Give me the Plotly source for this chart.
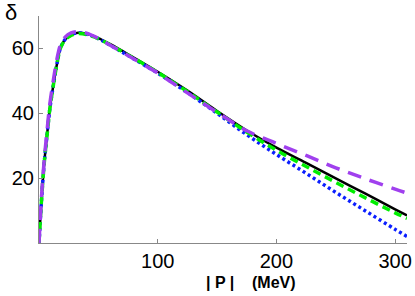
import plotly.graph_objects as go

# momentum |P| (MeV)
p = [0, 1, 2, 3.5, 5, 7, 9, 12, 15, 18, 22, 27, 33, 40, 50, 60, 75, 100,
     125, 150, 175, 200, 225, 250, 275, 300, 310]

delta_black = [0, 6.5, 12.5, 20.5, 27, 34, 41, 48.5, 55, 60, 62.8, 64.2, 64.8, 64.5,
               63.2, 61.3, 58.2, 52.8, 47, 40.7, 34.7, 29.4, 24.7, 19.9, 15.2, 10.4, 8.5]
delta_blue = [0, 6.5, 12.5, 20.5, 27, 34, 41, 48.5, 55, 60, 62.8, 64.2, 64.8, 64.4,
              63.0, 61.0, 57.8, 52.4, 46.4, 40.0, 33.4, 27.3, 21.5, 15.6, 9.9, 4.2, 2.0]
delta_green = [0, 6.5, 12.5, 20.5, 27, 34, 41, 48.5, 55, 60, 62.6, 64.0, 64.6, 64.3,
               63.0, 61.1, 58.0, 52.6, 46.7, 40.4, 34.2, 28.6, 23.6, 18.7, 13.9, 9.3, 7.6]
delta_purple = [0, 7, 13.5, 21.5, 28, 35.5, 42.5, 50, 56.5, 61, 63.5, 64.8, 65.2, 64.7,
                63.1, 61.0, 57.8, 52.4, 46.3, 40.3, 34.6, 30.7, 27.0, 23.2, 19.8, 16.6, 15.4]

x_ticks = [100, 200, 300]
y_ticks = [20, 40, 60]

fig = go.Figure()
fig.add_trace(go.Scatter(x=p, y=delta_black, mode="lines", line=dict(color="black", width=2.5, shape="spline")))
fig.add_trace(go.Scatter(x=p, y=delta_blue, mode="lines", line=dict(color="#0a1eff", width=3.5, dash="3px,3px", shape="spline")))
fig.add_trace(go.Scatter(x=p, y=delta_green, mode="lines", line=dict(color="#00ee00", width=3.5, dash="8px,5px", shape="spline")))
fig.add_trace(go.Scatter(x=p, y=delta_purple, mode="lines", line=dict(color="#a040ee", width=3.5, dash="14px,9px", shape="spline")))

axis_font = dict(family="Liberation Sans, Arial, sans-serif", size=20, color="black")
fig.update_layout(
    width=415, height=296,
    margin=dict(l=39, r=8, t=16, b=53),
    paper_bgcolor="white", plot_bgcolor="white",
    showlegend=False,
    xaxis=dict(range=[0, 310], tickvals=x_ticks, ticktext=[str(v) for v in x_ticks],
               ticks="inside", ticklen=4, tickcolor="#888", showgrid=False, zeroline=False,
               showline=True, linecolor="#888", linewidth=1, tickfont=axis_font,
               automargin=False),
    yaxis=dict(range=[0, 70], tickvals=y_ticks, ticktext=[str(v) for v in y_ticks],
               ticks="inside", ticklen=4, tickcolor="#888", showgrid=False, zeroline=False,
               showline=True, linecolor="#888", linewidth=1, tickfont=axis_font,
               automargin=False),
    annotations=[
        dict(text="δ", xref="paper", yref="paper", x=-0.098, y=1.015, xanchor="left", yanchor="middle",
             showarrow=False, font=dict(family="Liberation Sans, Arial, sans-serif", size=22, color="black")),
        dict(text="<b>| P |    (MeV)</b>", xref="paper", yref="paper", x=0.575, y=-0.175,
             xanchor="center", yanchor="middle", showarrow=False,
             font=dict(family="Liberation Sans, Arial, sans-serif", size=16, color="black")),
    ],
)
fig.write_html("out.html", config={"displayModeBar": False},
               post_script="document.body.style.margin='0';document.body.style.padding='0';")
